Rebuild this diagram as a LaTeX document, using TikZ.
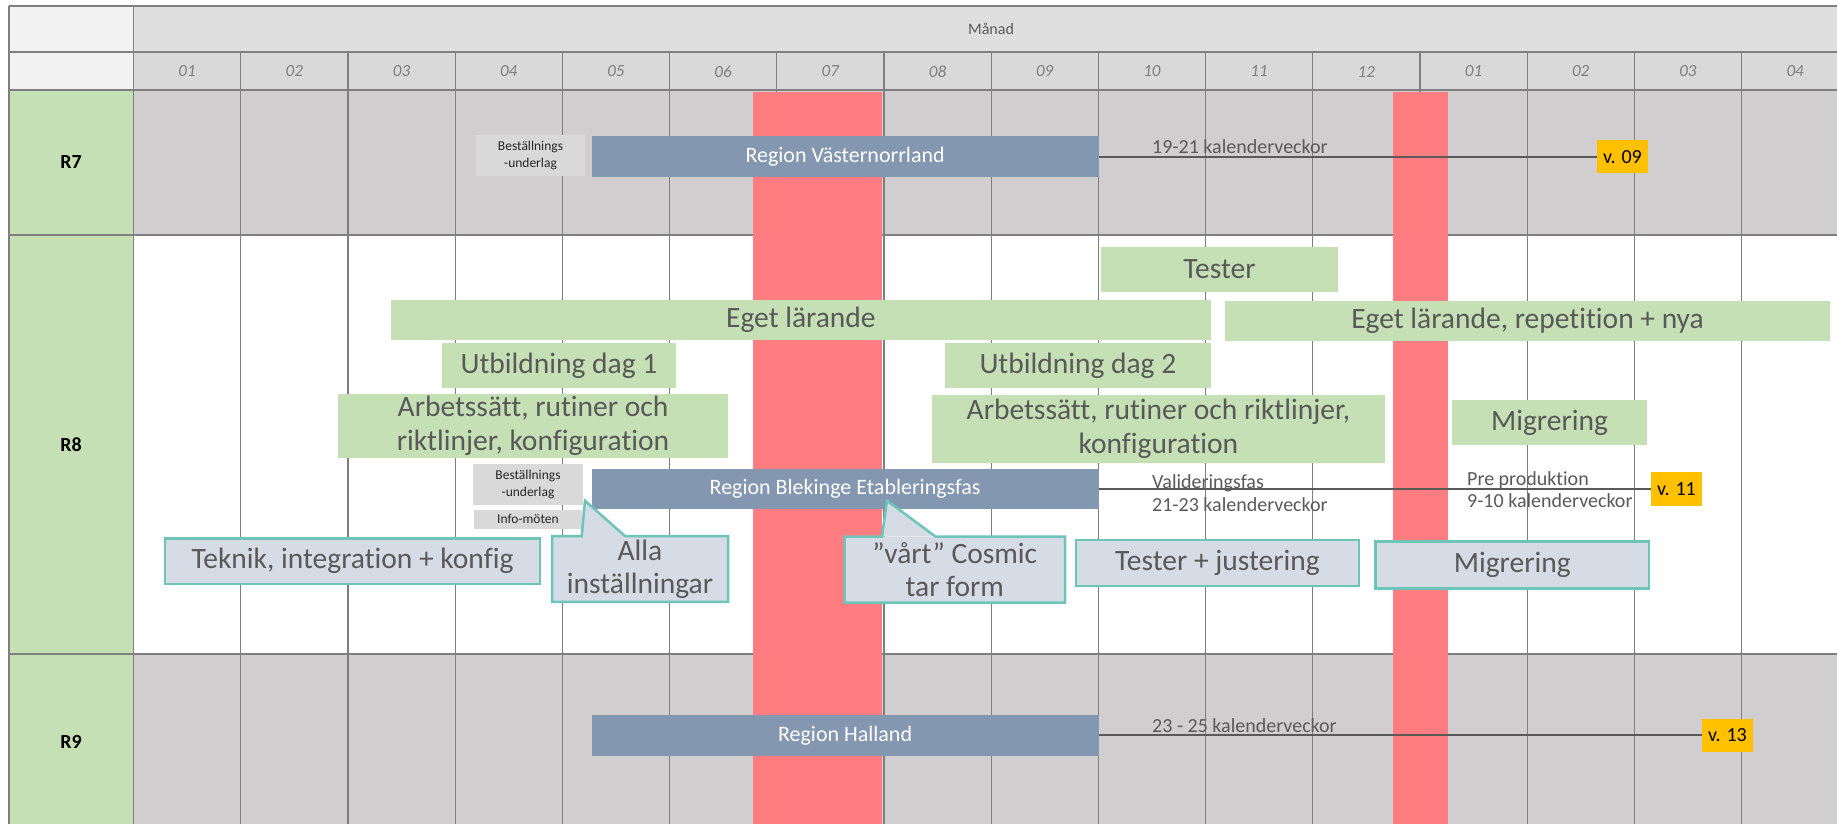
\documentclass[tikz,border=0pt]{standalone}
\usepackage{fontspec}
\setmainfont{Carlito}[Ligatures={NoCommon}]
\usetikzlibrary{positioning}
\usetikzlibrary{calc}

\definecolor{grn}{HTML}{C5E0B4}
\definecolor{rowgray}{HTML}{D0CECE}
\definecolor{hdrgray}{HTML}{DFDFDF}
\definecolor{hdrgraytwo}{HTML}{D9D9D9}
\definecolor{corner}{HTML}{F2F2F2}
\definecolor{gridgray}{HTML}{7F7F7F}
\definecolor{holiday}{HTML}{FF7C80}
\definecolor{regblue}{HTML}{8497B0}
\definecolor{bubblefill}{HTML}{D6DCE5}
\definecolor{bubbleedge}{HTML}{6DC5BA}
\definecolor{msyellow}{HTML}{FFC000}
\definecolor{txt}{HTML}{595959}
\definecolor{tagfill}{HTML}{D9D9D9}

\begin{document}
\begin{tikzpicture}[x=1pt,y=-1pt]
\tikzset{
  box/.style={inner sep=0pt, outer sep=0pt, align=center},
  greenbox/.style={box, fill=grn, text=txt, font=\fontsize{29.5}{34}\selectfont},
  regionbar/.style={box, fill=regblue, text=white, font=\fontsize{22}{26}\selectfont},
  ordertag/.style={box, fill=tagfill, text=black!85, font=\fontsize{13.5}{17}\selectfont},
  vtag/.style={box, fill=msyellow, text=black, font=\fontsize{20}{24}\selectfont},
  bubble/.style={box, fill=bubblefill, text=txt, font=\fontsize{29.5}{33}\selectfont},
  infobox/.style={bubble, draw=bubbleedge, line width=2.5pt},
  bubbleline/.style={draw=bubbleedge, line width=2.5pt},
  track/.style={draw=txt, line width=2pt},
  note/.style={text=txt, inner sep=0pt, font=\fontsize{20}{24}\selectfont},
  gridln/.style={draw=gridgray, line width=1.2pt},
  month/.style={text=gridgray, font=\fontsize{17}{20}\selectfont\itshape},
  rowlabel/.style={font=\fontsize{20}{24}\selectfont\bfseries}
}
\useasboundingbox (0,0) rectangle (1837,824);
\clip (0,0) rectangle (1837,824);
\fill[white] (0,0) rectangle (1837,824);

% table
\fill[corner] (9,6) rectangle (133.5,90);
\fill[hdrgray] (133.5,6) rectangle (1849,52);
\fill[hdrgraytwo] (133.5,52) rectangle (1849,90);
\fill[grn] (9,90) rectangle (133.5,830);
\fill[rowgray] (133.5,90) rectangle (1849,235);
\fill[rowgray] (133.5,654) rectangle (1849,830);
\foreach \y in {6,52,90,235,654}
  \draw[gridln] (9,\y) -- (1849,\y);
\draw[gridln] (9,6) -- (9,830);
\draw[gridln] (133.5,6) -- (133.5,830);
\foreach \k in {1,...,15}
  \draw[gridln] (133.5+107.2*\k,52) -- (133.5+107.2*\k,830);

% holidays
\fill[holiday] (753,92) rectangle (882,830);
\fill[holiday] (1393,92) rectangle (1448,830);

\path (991,29) node[text=txt, font=\fontsize{16}{19}\selectfont] (manad) {Månad};
\foreach \m [count=\k from 0] in {01,02,03,04,05,06,07,08,09,10,11,12,01,02,03,04} {
  \path (187.1+107.2*\k,71.5) node[month] (m\k) {\m};
}
\path (71,162.5) node[rowlabel] (r7) {R7};
\path (71,444.5) node[rowlabel] (r8) {R8};
\path (71,742) node[rowlabel] (r9) {R9};

% R7
\node[ordertag, minimum width=109pt, minimum height=40.7pt] (best7) at (530.5,155.4) {Beställnings\\-underlag};
\node[regionbar, minimum width=507.2pt, minimum height=40.7pt] (vnorr) at (845.1,156.6) {Region Västernorrland};
\node[vtag, minimum width=51pt, minimum height=33.7pt] (v09) at (1622.5,156.6) {v. 09};
\draw (vnorr.east) edge[track] (v09.west);
\path (1152,153.3) node[note, anchor=base west] (weeks7) {19-21 kalenderveckor};

% R8
\node[greenbox, minimum width=237pt, minimum height=44.4pt] (tester) at (1219.5,269.5) {Tester};
\node[greenbox, minimum width=819.7pt, minimum height=39.7pt] (eget) at (800.9,319.9) {Eget lärande};
\node[greenbox, minimum width=605pt, minimum height=39.7pt] (egetrep) at (1527.5,320.9) {Eget lärande, repetition + nya};
\node[greenbox, minimum width=234pt, minimum height=44.4pt] (utb1) at (559,365.5) {Utbildning dag 1};
\node[greenbox, minimum width=265.7pt, minimum height=44.4pt] (utb2) at (1077.9,365.5) {Utbildning dag 2};
\node[greenbox, minimum width=390pt, minimum height=64pt] (arb1) at (533,426) {Arbetssätt, rutiner och\\riktlinjer, konfiguration};
\node[greenbox, minimum width=452.8pt, minimum height=67.7pt] (arb2) at (1158.4,428.9) {Arbetssätt, rutiner och riktlinjer,\\konfiguration};
\node[greenbox, minimum width=195pt, minimum height=44.7pt] (migr) at (1549.5,422.4) {Migrering};

\node[ordertag, minimum width=110pt, minimum height=40.7pt] (best8) at (528,484.4) {Beställnings\\-underlag};
\node[ordertag, minimum width=108.6pt, minimum height=18.7pt, below=5.3pt of best8] (info) {Info-möten};
\node[regionbar, minimum width=507.2pt, minimum height=40.3pt] (blek) at (845.1,489) {Region Blekinge Etableringsfas};
\node[vtag, minimum width=51pt, minimum height=33.4pt] (v11) at (1676.5,489) {v. 11};
\draw (blek.east) edge[track] (v11.west);
\path (1152,488.3) node[note, anchor=base west] (valid) {Valideringsfas};
\path (1152,511.7) node[note, anchor=base west] (weeks8) {21-23 kalenderveckor};
\path (1467,485) node[note, anchor=base west] (prepr) {Pre produktion};
\path (1467,507.7) node[note, anchor=base west] (weekspre) {9-10 kalenderveckor};

\node[infobox, minimum width=375pt, minimum height=45.7pt] (teknik) at (352.5,561.2) {Teknik, integration + konfig};

\node[bubble, minimum width=176pt, minimum height=65.7pt] (alla) at (640,568.9) {Alla\\inställningar};
\coordinate (allatip) at (585,500.7);
\fill[bubblefill] ($(alla.north west)+(29.7,0)$) -- (allatip) -- ($(alla.north west)+(73,0)$) -- cycle;
\draw[bubbleline] (alla.north west) -- ($(alla.north west)+(29.7,0)$) -- (allatip) -- ($(alla.north west)+(73,0)$)
  -- (alla.north east) -- (alla.south east) -- (alla.south west) -- cycle;

\node[bubble, minimum width=220.4pt, minimum height=66pt] (vart) at (954.8,569.7) {”vårt” Cosmic\\tar form};
\coordinate (varttip) at (887,500.7);
\fill[bubblefill] ($(vart.north west)+(37.4,0)$) -- (varttip) -- ($(vart.north west)+(91.1,0)$) -- cycle;
\draw[bubbleline] (vart.north west) -- ($(vart.north west)+(37.4,0)$) -- (varttip) -- ($(vart.north west)+(91.1,0)$)
  -- (vart.north east) -- (vart.south east) -- (vart.south west) -- cycle;

\node[infobox, minimum width=283pt, minimum height=45.7pt] (testjust) at (1217.5,562.9) {Tester + justering};
\node[infobox, minimum width=273.5pt, minimum height=46.6pt] (migr2) at (1512.3,565) {Migrering};

% R9
\node[regionbar, minimum width=507.2pt, minimum height=41pt] (hall) at (845.1,735.3) {Region Halland};
\node[vtag, minimum width=51pt, minimum height=33.4pt] (v13) at (1727.5,735.3) {v. 13};
\draw (hall.east) edge[track] (v13.west);
\path (1152,732.7) node[note, anchor=base west] (weeks9) {23 - 25 kalenderveckor};

\end{tikzpicture}
\end{document}
